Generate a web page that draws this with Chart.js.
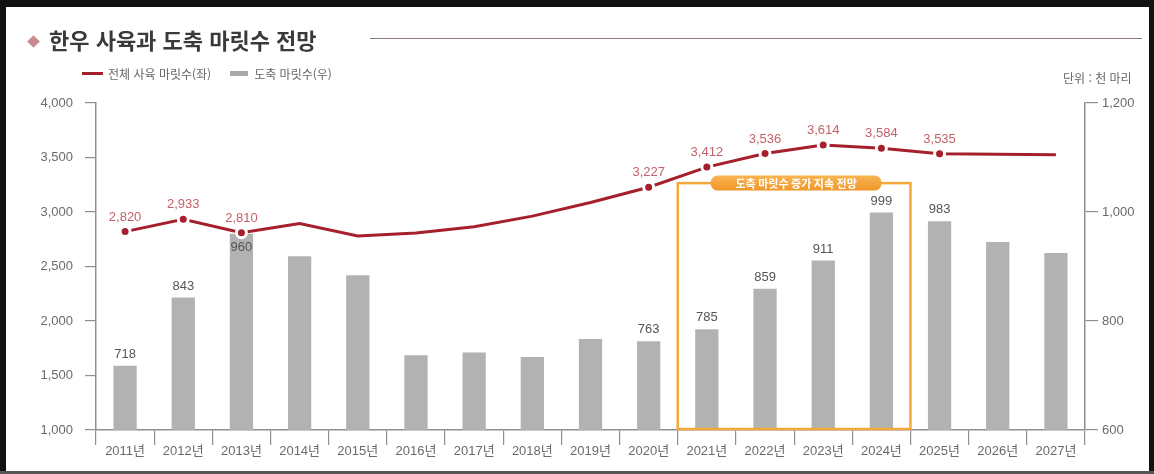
<!DOCTYPE html>
<html lang="ko">
<head>
<meta charset="utf-8">
<title>한우 사육과 도축 마릿수 전망</title>
<script src="https://cdn.jsdelivr.net/npm/chart.js@4.4.1/dist/chart.umd.min.js"></script>
<style>
  html, body { margin: 0; padding: 0; background: #fff; }
  #wrap { position: relative; width: 1154px; height: 474px; overflow: hidden; background: #fff; }
  #chart { position: absolute; left: 0; top: 0; }
  .frame { position: absolute; background: #111; }
  .title { position: absolute; left: 26px; top: 25px; font-family: 'Noto Sans CJK KR', sans-serif; font-weight: 700;
           font-size: 22px; line-height: 28px; color: #3a3a3a; white-space: nowrap; }
  .title .mark { display: inline-block; width: 9px; height: 9px; background: #c98b90; transform: rotate(45deg);
                 margin: 0 11px 4px 3px; vertical-align: middle; }
  .rule { position: absolute; left: 370px; top: 38px; width: 772px; height: 1px; background: #8d7f77; }
  .legend { position: absolute; top: 64px; left: 82px; font-family: 'Noto Sans CJK KR', sans-serif; font-size: 12px;
            color: #666; white-space: nowrap; line-height: 16px; }
  .legend span { display: inline-block; vertical-align: middle; }
  .legend .swLine { width: 21px; height: 3px; background: #a61f2d; margin-right: 5px; }
  .legend .swBar { width: 18px; height: 5px; background: #a9a9a9; margin: 0 6px 0 19px; }
  .unit { position: absolute; top: 70px; left: 1063px; font-family: 'Noto Sans CJK KR', sans-serif; font-size: 12px;
          color: #666; white-space: nowrap; line-height: 16px; }
</style>
</head>
<body>
<div id="wrap">
  <canvas id="chart" width="1154" height="474"></canvas>
  <div class="title"><span class="mark"></span>한우 사육과 도축 마릿수 전망</div>
  <div class="rule"></div>
  <div class="legend"><span class="swLine"></span><span>전체 사육 마릿수(좌)</span><span class="swBar"></span><span>도축 마릿수(우)</span></div>
  <div class="unit">단위 : 천 마리</div>
  <div class="frame" style="left:0;top:0;width:1154px;height:7px"></div>
  <div class="frame" style="left:0;top:0;width:6px;height:474px"></div>
  <div class="frame" style="left:1149px;top:0;width:5px;height:474px"></div>
  <div class="frame" style="left:0;top:471px;width:1154px;height:3px;background:#555"></div>
</div>
<script>
// Years on the category axis
const years = ['2011년', '2012년', '2013년', '2014년', '2015년', '2016년', '2017년', '2018년', '2019년',
               '2020년', '2021년', '2022년', '2023년', '2024년', '2025년', '2026년', '2027년'];

// Total Hanwoo herd (thousand head, left axis)
const totalHerd = [2820, 2933, 2810, 2894, 2779, 2808, 2865, 2962, 3087,
                   3227, 3412, 3536, 3614, 3584, 3535, 3530, 3525];

// Slaughter count (thousand head, right axis)
const slaughter = [718, 843, 960, 919, 884, 737, 742, 734, 767,
                   763, 785, 859, 911, 999, 983, 945, 925];

// Which years carry a printed value and a marker
const herdShown = [1, 1, 1, 0, 0, 0, 0, 0, 0, 1, 1, 1, 1, 1, 1, 0, 0];
const slaughterShown = [1, 1, 1, 0, 0, 0, 0, 0, 0, 1, 1, 1, 1, 1, 1, 0, 0];

// Axis tick values
const leftTicks = [1000, 1500, 2000, 2500, 3000, 3500, 4000];
const rightTicks = [600, 800, 1000, 1200];

// Highlighted outlook window
const outlook = { from: '2021년', to: '2024년', top: 1053, text: '도축 마릿수 증가 지속 전망' };

const AXIS = '#8f8f8f';
const TICK_TEXT = '#6a6a6a';
const FONT = "'Liberation Sans', 'Noto Sans CJK KR', sans-serif";
const fmt = v => v.toLocaleString('en-US');

const outlookBox = {
  id: 'outlookBox',
  afterDatasetsDraw(chart) {
    const { ctx, scales: { x, y1 } } = chart;
    const i0 = years.indexOf(outlook.from), i1 = years.indexOf(outlook.to);
    const half = (x.getPixelForValue(1) - x.getPixelForValue(0)) / 2;
    const left = x.getPixelForValue(i0) - half;
    const right = x.getPixelForValue(i1) + half;
    const top = y1.getPixelForValue(outlook.top);
    const bottom = chart.chartArea.bottom;
    ctx.save();
    ctx.strokeStyle = '#f4a83b';
    ctx.lineWidth = 2.5;
    ctx.strokeRect(left, top, right - left, bottom - top - 1);
    // caption pill
    ctx.font = "bold 11px 'Noto Sans CJK KR', sans-serif";
    const w = ctx.measureText(outlook.text).width + 50;
    const h = 15;
    const cx = (left + right) / 2 + 2;
    const g = ctx.createLinearGradient(0, top - h / 2, 0, top + h / 2);
    g.addColorStop(0, '#f8b450');
    g.addColorStop(1, '#f0962a');
    ctx.fillStyle = g;
    ctx.beginPath();
    ctx.roundRect(cx - w / 2, top - h / 2, w, h, 7.5);
    ctx.fill();
    ctx.fillStyle = '#fff';
    ctx.textAlign = 'center';
    ctx.textBaseline = 'middle';
    ctx.fillText(outlook.text, cx, top + 0.5);
    ctx.restore();
  }
};

const valueLabels = {
  id: 'valueLabels',
  afterDatasetsDraw(chart) {
    const { ctx } = chart;
    ctx.save();
    ctx.font = '13px ' + FONT;
    ctx.textAlign = 'center';
    const lineMeta = chart.getDatasetMeta(0);
    const barMeta = chart.getDatasetMeta(1);
    ctx.fillStyle = '#555';
    barMeta.data.forEach((bar, i) => {
      if (!slaughterShown[i]) return;
      const pt = lineMeta.data[i];
      // bar label sits above the bar, or just below the line where the line crosses that spot
      const labelTop = bar.y - 5 - 14;
      if (labelTop < pt.y + 8 && bar.y - 5 > pt.y - 24) {
        ctx.textBaseline = 'top';
        ctx.fillText(fmt(slaughter[i]), bar.x, pt.y + 8);
      } else {
        ctx.textBaseline = 'bottom';
        ctx.fillText(fmt(slaughter[i]), bar.x, bar.y - 5);
      }
    });
    ctx.fillStyle = '#c4606a';
    ctx.textBaseline = 'bottom';
    lineMeta.data.forEach((pt, i) => {
      if (herdShown[i]) ctx.fillText(fmt(totalHerd[i]), pt.x, pt.y - 8);
    });
    ctx.restore();
  }
};

new Chart(document.getElementById('chart'), {
  data: {
    labels: years,
    datasets: [
      {
        type: 'line',
        label: '전체 사육 마릿수(좌)',
        data: totalHerd,
        yAxisID: 'y',
        order: 0,
        borderColor: '#a61f2d',
        borderWidth: 3,
        tension: 0,
        pointRadius: c => herdShown[c.dataIndex] ? 5 : 0,
        pointBackgroundColor: '#a61f2d',
        pointBorderColor: '#ffffff',
        pointBorderWidth: 3
      },
      {
        type: 'bar',
        label: '도축 마릿수(우)',
        data: slaughter,
        yAxisID: 'y1',
        order: 1,
        backgroundColor: '#b2b2b2',
        barPercentage: 0.4,
        categoryPercentage: 1
      }
    ]
  },
  options: {
    responsive: false,
    animation: false,
    devicePixelRatio: 1,
    layout: { padding: { top: 103, left: 0, right: 0, bottom: 0 } },
    plugins: { legend: { display: false }, tooltip: { enabled: false } },
    scales: {
      x: {
        offset: true,
        afterFit: s => { s.height = 44; },
        grid: { offset: true, drawOnChartArea: false, tickLength: 15, color: AXIS, lineWidth: 1.2 },
        border: { color: AXIS, width: 1.5 },
        ticks: { color: TICK_TEXT, font: { family: FONT, size: 13 }, padding: -1, maxRotation: 0, autoSkip: false }
      },
      y: {
        position: 'left',
        min: leftTicks[0],
        max: leftTicks[leftTicks.length - 1],
        afterFit: s => { s.width = 96; },
        afterBuildTicks: s => { s.ticks = leftTicks.map(v => ({ value: v })); },
        grid: { drawOnChartArea: false, tickLength: 11, color: AXIS, lineWidth: 1.2 },
        border: { color: AXIS, width: 1.5 },
        ticks: { color: TICK_TEXT, font: { family: FONT, size: 13 }, padding: 12, callback: v => fmt(v) }
      },
      y1: {
        position: 'right',
        min: rightTicks[0],
        max: rightTicks[rightTicks.length - 1],
        afterFit: s => { s.width = 69; },
        afterBuildTicks: s => { s.ticks = rightTicks.map(v => ({ value: v })); },
        grid: { drawOnChartArea: false, tickLength: 13, color: AXIS, lineWidth: 1.2 },
        border: { color: AXIS, width: 1.5 },
        ticks: { color: TICK_TEXT, font: { family: FONT, size: 13 }, padding: 4, callback: v => fmt(v) }
      }
    }
  },
  plugins: [outlookBox, valueLabels]
});
</script>
</body>
</html>
